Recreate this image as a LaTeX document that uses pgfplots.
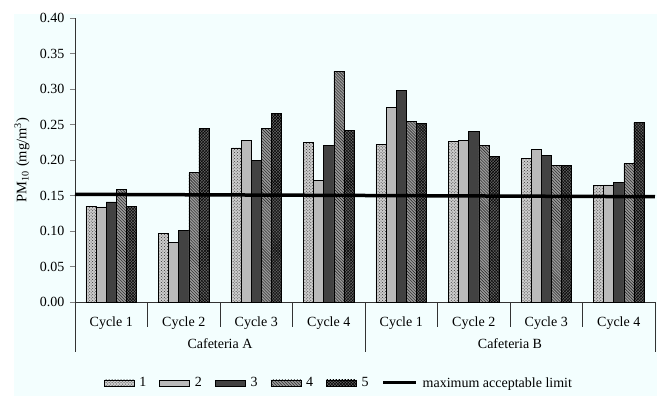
\documentclass[border=0pt]{standalone}
\usepackage{pgfplots}
\pgfplotsset{compat=1.18}
\usepackage{pgfplotstable}
\usepackage{fontspec}
\setmainfont{Liberation Serif}
\usetikzlibrary{patterns}
\definecolor{bgc}{RGB}{243,254,254}
\pgfplotsset{mylinelegend/.style={legend image code/.code={\draw[##1] (0bp,0bp) -- (33bp,0bp);}}}
\pgfplotstableread{
x s1 s2 s3 s4 s5
0 0.135 0.134 0.141 0.159 0.135
1 0.097 0.084 0.101 0.182 0.244
2 0.217 0.228 0.199 0.245 0.266
3 0.225 0.171 0.221 0.325 0.242
4 0.222 0.274 0.298 0.254 0.252
5 0.226 0.228 0.240 0.220 0.205
6 0.202 0.215 0.206 0.192 0.192
7 0.164 0.165 0.169 0.195 0.253
}\datatable
\begin{document}
\begin{tikzpicture}
\path (-75bp,-94bp) rectangle (585bp,302bp);
\fill[bgc] (-61bp,-94bp) rectangle (582bp,288bp);
\begin{axis}[
  scale only axis, width=580bp, height=284bp,
  at={(0,0)}, anchor=south west,
  clip=false,
  ybar=0pt, bar width=0.14,
  xmin=-0.5, xmax=7.5, ymin=0, ymax=0.40,
  enlargelimits=false,
  axis x line*=bottom, axis y line*=left,
  axis line style={-, black!80, line width=0.8bp},
  tick align=outside, major tick length=5bp,
  ytick={0,0.05,...,0.41},
  yticklabel style={/pgf/number format/.cd, fixed, fixed zerofill, precision=2, /tikz/.cd, xshift=-2bp},
  xtick={0,...,7},
  xticklabels={Cycle 1,Cycle 2,Cycle 3,Cycle 4,Cycle 1,Cycle 2,Cycle 3,Cycle 4},
  x tick style={draw=none},
  xticklabel style={anchor=base, yshift=-19bp},
  /pgf/number format/assume math mode=true,
  tick label style={font=\fontsize{14bp}{16bp}\selectfont},
  ylabel={PM\textsubscript{10} (mg/m\textsuperscript{3})},
  ylabel style={at={(axis description cs:-0.0914,0.5)}, anchor=center, font=\fontsize{14.5bp}{16bp}\selectfont},
  legend columns=6,
  legend style={draw=none, fill=none, at={(0.455,-0.285)}, anchor=center,
    font=\fontsize{14bp}{16bp}\selectfont,
    /tikz/every odd column/.append style={column sep=3bp},
    /tikz/every even column/.append style={column sep=11bp}},
  legend image code/.code={\draw[#1] (0bp,-3bp) rectangle (30bp,3bp);},
  every axis plot/.append style={draw=black, line width=0.6bp},
]
\addplot[fill=black!20, postaction={pattern=crosshatch dots, pattern color=black!80}] table[x=x,y=s1]{\datatable};
\addlegendentry{1}
\addplot[fill=black!27] table[x=x,y=s2]{\datatable};
\addlegendentry{2}
\addplot[fill=black!74] table[x=x,y=s3]{\datatable};
\addlegendentry{3}
\addplot[fill=black!40, postaction={pattern=north west lines, pattern color=black!90}] table[x=x,y=s4]{\datatable};
\addlegendentry{4}
\addplot[fill=black!62, postaction={pattern=crosshatch, pattern color=black}] table[x=x,y=s5]{\datatable};
\addlegendentry{5}
\addplot[sharp plot, draw=black, line width=3.5bp, forget plot] coordinates {(-0.5,0.1517) (7.5,0.1483)};
\addlegendimage{mylinelegend, sharp plot, line width=3bp, black}
\addlegendentry{maximum acceptable limit}
\draw[black!80, line width=0.8bp] (axis cs:-0.5,0) -- ([yshift=-50bp]axis cs:-0.5,0);
\draw[black!80, line width=0.8bp] (axis cs:3.5,0) -- ([yshift=-50bp]axis cs:3.5,0);
\draw[black!80, line width=0.8bp] (axis cs:7.5,0) -- ([yshift=-50bp]axis cs:7.5,0);
\draw[black!80, line width=0.8bp] (axis cs:0.5,0) -- ([yshift=-25bp]axis cs:0.5,0);
\draw[black!80, line width=0.8bp] (axis cs:1.5,0) -- ([yshift=-25bp]axis cs:1.5,0);
\draw[black!80, line width=0.8bp] (axis cs:2.5,0) -- ([yshift=-25bp]axis cs:2.5,0);
\draw[black!80, line width=0.8bp] (axis cs:4.5,0) -- ([yshift=-25bp]axis cs:4.5,0);
\draw[black!80, line width=0.8bp] (axis cs:5.5,0) -- ([yshift=-25bp]axis cs:5.5,0);
\draw[black!80, line width=0.8bp] (axis cs:6.5,0) -- ([yshift=-25bp]axis cs:6.5,0);
\node[anchor=base, font=\fontsize{14bp}{16bp}\selectfont] at ([yshift=-46bp]axis cs:1.5,0) {Cafeteria A};
\node[anchor=base, font=\fontsize{14bp}{16bp}\selectfont] at ([yshift=-46bp]axis cs:5.5,0) {Cafeteria B};
\end{axis}
\end{tikzpicture}
\end{document}
